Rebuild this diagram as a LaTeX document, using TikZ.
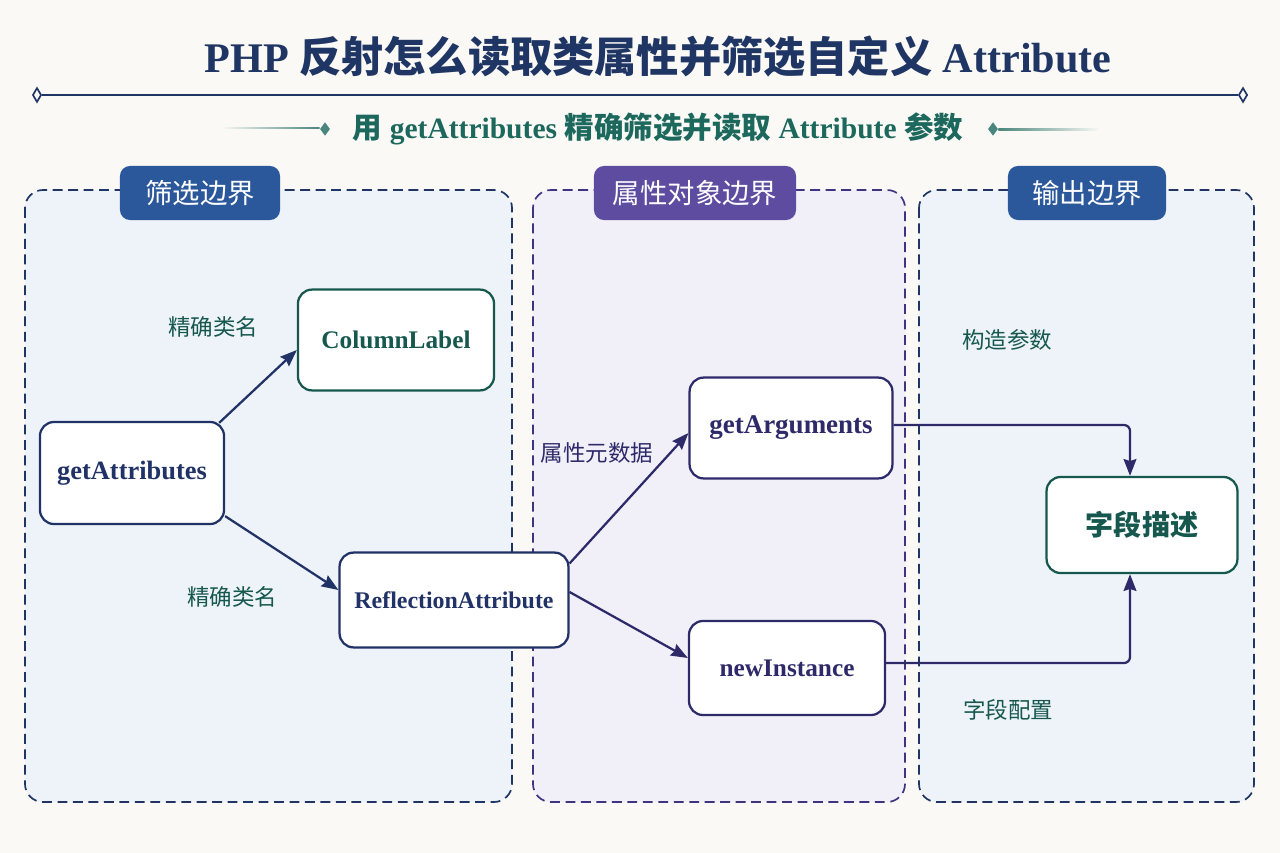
\documentclass[tikz,border=0pt]{standalone}
\usepackage{fontspec}
\setmainfont{Liberation Serif}
\newfontfamily\cjk{Noto Sans CJK SC}
\usepackage{tikz}
\usetikzlibrary{shapes.geometric, arrows.meta, positioning, calc}
\definecolor{cBg}{RGB}{250,249,246}
\definecolor{cNavy}{RGB}{31,53,99}
\definecolor{cTeal}{RGB}{28,104,92}
\definecolor{cTealDark}{RGB}{22,88,78}
\definecolor{cBlueTab}{RGB}{43,88,155}
\definecolor{cPurpleTab}{RGB}{94,76,160}
\definecolor{cBluePanel}{RGB}{238,243,249}
\definecolor{cPurplePanel}{RGB}{241,240,248}
\definecolor{cEdge}{RGB}{33,50,102}
\definecolor{cPurpleEdge}{RGB}{46,42,106}
\definecolor{cPurpleLine}{RGB}{62,52,130}
\tikzset{
	panel/.style    ={rounded corners=0.45cm, line width=1.2pt, dash pattern=on 7pt off 4pt},
	tab/.style      ={rectangle, rounded corners=0.25cm, text=white, minimum height=1.35cm, inner sep=0pt, font=\cjk\fontsize{19.5}{22}\selectfont},
	fnbox/.style    ={rectangle, rounded corners=0.35cm, line width=1.6pt, fill=white, align=center, font=\bfseries\fontsize{18}{21}\selectfont},
	elabel/.style   ={font=\cjk\fontsize{16}{19}\selectfont},
	tipmark/.style  ={diamond, inner sep=0pt, minimum width=0.22cm, minimum height=0.36cm},
	flow/.style     ={-{Stealth[length=0.42cm, width=0.32cm, inset=0.05cm]}, line width=1.6pt},
}

\begin{document}
\begin{tikzpicture}[x=0.025cm, y=-0.025cm]
	\fill[cBg] (0,0) rectangle (1280,853);
	% heading
	\node[text=cNavy, font=\bfseries\fontsize{30}{36}\selectfont] (title) at (658,57) {PHP {\cjk 反射怎么读取类属性并筛选自定义} Attribute};
	\node[tipmark, draw=cNavy, fill=cBg, line width=1.2pt] (tl) at (37,95) {};
	\node[tipmark, draw=cNavy, fill=cBg, line width=1.2pt] (tr) at (1243,95) {};
	\draw[cNavy, line width=1.6pt] (tl) -- (tr);
	\node[text=cTeal, font=\bfseries\fontsize{21}{25}\selectfont] (subtitle) at (658,129) {{\cjk 用} getAttributes {\cjk 精确筛选并读取} Attribute {\cjk 参数}};
	\node[tipmark, fill=cTeal!80, minimum width=0.25cm, minimum height=0.34cm] (sl) at (325,129) {};
	\node[tipmark, fill=cTeal!80, minimum width=0.25cm, minimum height=0.34cm] (sr) at (993,129) {};
	\shade[left color=cBg, right color=cTeal!80] (220,127.8) rectangle (sl.west);
	\shade[left color=cTeal!80, right color=cBg] (sr.east) rectangle (1100,130.2);
	% panels
	\draw[panel, draw=cNavy, fill=cBluePanel] (25,190) rectangle (512,802);
	\draw[panel, draw=cPurpleLine, fill=cPurplePanel] (533,190) rectangle (905,802);
	\draw[panel, draw=cNavy, fill=cBluePanel] (919,190) rectangle (1254,802);
	\node[tab, fill=cBlueTab, minimum width=4cm] (tab1) at (200,193) {筛选边界};
	\node[tab, fill=cPurpleTab, minimum width=5.05cm] (tab2) at (695,193) {属性对象边界};
	\node[tab, fill=cBlueTab, minimum width=3.95cm] (tab3) at (1087,193) {输出边界};
	% boxes
	\node[fnbox, draw=cEdge, text=cEdge, minimum width=4.6cm, minimum height=2.55cm, font=\bfseries\fontsize{18.8}{21}\selectfont] (gattr) at (132,473) {getAttributes};
	\node[fnbox, draw=cTealDark, text=cTealDark, minimum width=4.9cm, minimum height=2.52cm] (cl) at (396,340) {ColumnLabel};
	\node[fnbox, draw=cEdge, text=cEdge, minimum width=5.72cm, minimum height=2.37cm, font=\bfseries\fontsize{17}{21}\selectfont] (ra) at (454,600) {ReflectionAttribute};
	\node[fnbox, draw=cPurpleEdge, text=cPurpleEdge, minimum width=5.07cm, minimum height=2.52cm, font=\bfseries\fontsize{19.2}{21}\selectfont] (gargs) at (791,428) {getArguments};
	\node[fnbox, draw=cPurpleEdge, text=cPurpleEdge, minimum width=4.9cm, minimum height=2.35cm] (ni) at (787,668) {newInstance};
	\node[fnbox, draw=cTealDark, text=cTealDark, minimum width=4.77cm, minimum height=2.4cm, font=\cjk\bfseries\fontsize{20}{24}\selectfont] (fd) at (1142,525) {字段描述};
	% labels
	\node[elabel, text=cTealDark] (lb1) at (213,327) {精确类名};
	\node[elabel, text=cTealDark] (lb2) at (232,597) {精确类名};
	\node[elabel, text=cPurpleEdge] (lb3) at (597,453) {属性元数据};
	\node[elabel, text=cTealDark] (lb4) at (1007,340) {构造参数};
	\node[elabel, text=cTealDark] (lb5) at (1008,710) {字段配置};
	% arrows
	\draw[flow, cEdge] ($(gattr.north east)+(-6,2)$) -- ($(cl.west)+(0,10)$);
	\draw[flow, cEdge] ($(gattr.south east)+(0,-9)$) -- ($(ra.west)+(0,-10)$);
	\draw[flow, cPurpleEdge] ($(ra.north east)+(0,12)$) -- ($(gargs.west)+(0,5)$);
	\draw[flow, cPurpleEdge] ($(ra.east)+(0,-8)$) -- ($(ni.west)+(0,-10)$);
	\draw[flow, cPurpleEdge, rounded corners=0.15cm] ($(gargs.east)+(0,-3)$) -| ($(fd.north)+(-12,0)$);
	\draw[flow, cPurpleEdge, rounded corners=0.15cm] ($(ni.east)+(0,-5)$) -| ($(fd.south)+(-12,0)$);
\end{tikzpicture}
\end{document}
